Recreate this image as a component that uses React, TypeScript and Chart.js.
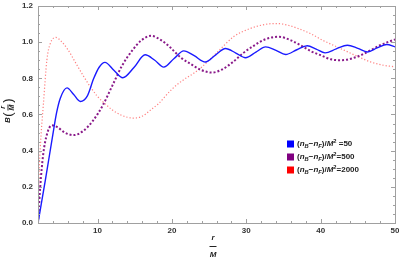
import React, { useEffect, useRef } from "react";
import { Chart, registerables } from "chart.js";

Chart.register(...registerables);

// ---- data ----
const X_50 = [2, 3, 4, 4.5, 5, 5.9, 6.8, 7.7, 8.6, 9.5, 10.2, 11.0, 12.2, 13.4, 14.9, 16.4, 17.7, 18.9, 20.3, 21.6, 23.0, 24.5, 25.9, 27.2, 28.6, 29.9, 31.3, 32.6, 34.0, 35.3, 36.8, 38.2, 39.4, 40.6, 42.1, 43.6, 45.0, 46.3, 47.6, 48.9, 50];
const Y_50 = [0, 0.24, 0.49, 0.61, 0.69, 0.747, 0.71, 0.672, 0.7, 0.8, 0.86, 0.888, 0.845, 0.803, 0.86, 0.93, 0.9, 0.862, 0.91, 0.952, 0.925, 0.89, 0.93, 0.965, 0.94, 0.914, 0.945, 0.974, 0.955, 0.932, 0.958, 0.98, 0.962, 0.941, 0.963, 0.983, 0.966, 0.946, 0.968, 0.987, 0.974];

const X_500 = [2, 2.3, 2.7, 3.2, 3.85, 4.6, 5.6, 6.8, 8.1, 9.4, 10.7, 12.0, 13.3, 14.6, 15.9, 17.2, 18.6, 19.8, 21.2, 22.5, 24.0, 25.4, 26.8, 28.2, 29.6, 31.0, 32.5, 34.4, 36.0, 37.3, 38.7, 40.0, 41.4, 42.8, 44.2, 45.4, 46.7, 48.0, 49.0, 50];
const Y_500 = [0, 0.2, 0.38, 0.49, 0.54, 0.53, 0.5, 0.486, 0.51, 0.566, 0.65, 0.76, 0.87, 0.95, 1.01, 1.035, 1.01, 0.97, 0.915, 0.88, 0.845, 0.832, 0.85, 0.89, 0.94, 0.98, 1.015, 1.03, 1.01, 0.983, 0.95, 0.928, 0.905, 0.9, 0.91, 0.928, 0.955, 0.983, 1.0, 1.015];

const X_2000 = [2, 2.1, 2.2, 2.4, 2.73, 3.19, 3.63, 4.4, 5, 6, 7, 8, 9, 10, 11, 12, 13, 14, 14.8, 16, 17.1, 18.2, 20, 21.5, 22.9, 23.8, 26, 28.3, 30.5, 32.8, 34.1, 35.5, 37, 38.6, 40.3, 42.2, 44.5, 46.7, 48.5, 50];
const Y_2000 = [0, 0.2, 0.33, 0.48, 0.66, 0.9, 0.99, 1.026, 1.01, 0.96, 0.89, 0.82, 0.755, 0.7, 0.66, 0.625, 0.6, 0.585, 0.58, 0.59, 0.624, 0.66, 0.74, 0.79, 0.827, 0.855, 0.94, 1.03, 1.075, 1.1, 1.103, 1.095, 1.075, 1.048, 1.01, 0.974, 0.93, 0.891, 0.872, 0.864];

const X_TICKS = [10, 20, 30, 40, 50];
const Y_TICKS = [0, 0.2, 0.4, 0.6, 0.8, 1.0, 1.2];
const LEGEND_VALUES = [" =50", "=500", "=2000"];
const SERIES_COLORS = ["#0000ff", "#800080", "#ff0000"];

const FONT = "'Liberation Sans', Arial, sans-serif";

type Part = { t: string; k?: "i" | "sub" | "sup" };

function drawRich(ctx: CanvasRenderingContext2D, x: number, y: number, parts: Part[], size: number) {
  let cx = x;
  for (const p of parts) {
    let fs = size;
    let dy = 0;
    let style = "";
    if (p.k === "sub") { fs = size * 0.72; dy = 2; style = "italic "; }
    else if (p.k === "sup") { fs = size * 0.72; dy = -3; }
    else if (p.k === "i") { style = "italic "; }
    ctx.font = `${style}bold ${fs}px ${FONT}`;
    ctx.fillText(p.t, cx, y + dy);
    cx += ctx.measureText(p.t).width;
  }
}

const framePlugin = {
  id: "frame",
  afterDatasetsDraw(chart: any) {
    const { ctx, chartArea: a, scales } = chart;
    const xs = scales.x, ys = scales.y;
    ctx.save();
    // frame
    ctx.strokeStyle = "#a0a0a0";
    ctx.lineWidth = 1;
    ctx.strokeRect(Math.round(a.left) + 0.5, Math.round(a.top) + 0.5, Math.round(a.right - a.left), Math.round(a.bottom - a.top));
    // ticks
    ctx.beginPath();
    for (let v = 2; v <= 50; v += 2) {
      const px = Math.round(xs.getPixelForValue(v)) + 0.5;
      const len = v % 10 === 0 ? 4 : 2;
      ctx.moveTo(px, a.bottom); ctx.lineTo(px, a.bottom - len);
      ctx.moveTo(px, a.top); ctx.lineTo(px, a.top + len);
    }
    for (let i = 0; i <= 24; i++) {
      const v = i * 0.05;
      const py = Math.round(ys.getPixelForValue(v)) + 0.5;
      const len = i % 4 === 0 ? 4 : 2;
      ctx.moveTo(a.left, py); ctx.lineTo(a.left + len, py);
      ctx.moveTo(a.right, py); ctx.lineTo(a.right - len, py);
    }
    ctx.stroke();
    // tick labels
    ctx.fillStyle = "#333";
    ctx.font = `bold 8px ${FONT}`;
    ctx.textAlign = "center";
    ctx.textBaseline = "top";
    for (const v of X_TICKS) {
      ctx.fillText(String(v), xs.getPixelForValue(v), a.bottom + 4);
    }
    ctx.textAlign = "right";
    ctx.textBaseline = "middle";
    for (const v of Y_TICKS) {
      ctx.fillText(v.toFixed(1), a.left - 5, ys.getPixelForValue(v));
    }
    // x axis label r/M
    ctx.fillStyle = "#222";
    ctx.textAlign = "center";
    ctx.textBaseline = "middle";
    ctx.font = `italic bold 8px ${FONT}`;
    const lx = 213;
    ctx.fillText("r", lx, 238);
    ctx.fillRect(lx - 3.5, 246, 7, 1);
    ctx.fillText("M", lx, 255);
    // y axis label B(r/M)
    ctx.save();
    ctx.translate(8, 110);
    ctx.rotate(-Math.PI / 2);
    ctx.textBaseline = "middle";
    ctx.textAlign = "center";
    ctx.font = `italic bold 8px ${FONT}`;
    ctx.fillText("B", -10, 0);
    ctx.font = `13px ${FONT}`;
    ctx.fillText("(", -4.5, 0);
    ctx.fillText(")", 9.5, 0);
    ctx.font = `italic bold 7px ${FONT}`;
    ctx.fillText("r", 2.5, -4.5);
    ctx.fillRect(-0.5, -0.5, 6, 1);
    ctx.fillText("M", 2.5, 4.5);
    ctx.restore();
    // legend
    const baseParts: Part[] = [
      { t: "(" }, { t: "n", k: "i" }, { t: "B", k: "sub" }, { t: "\u2212" }, { t: "n", k: "i" }, { t: "F", k: "sub" }, { t: ")/" }, { t: "M", k: "i" }, { t: "2", k: "sup" },
    ];
    const rows = [144, 157, 170];
    ctx.textAlign = "left";
    ctx.textBaseline = "middle";
    for (let i = 0; i < 3; i++) {
      ctx.fillStyle = SERIES_COLORS[i];
      ctx.fillRect(287, rows[i] - 3.5, 7, 7);
      ctx.fillStyle = "#222";
      drawRich(ctx, 297, rows[i], [...baseParts, { t: LEGEND_VALUES[i] }], 8);
    }
    ctx.restore();
  },
};

function toPts(xs: number[], ys: number[]) {
  return xs.map((x, i) => ({ x, y: ys[i] }));
}

export default function App() {
  const ref = useRef<HTMLCanvasElement>(null);
  useEffect(() => {
    document.body.style.margin = "0";
    const chart = new Chart(ref.current!, {
      type: "line",
      data: {
        datasets: [
          {
            data: toPts(X_50, Y_50),
            borderColor: "#1a1aff",
            borderWidth: 1.4,
            pointRadius: 0,
            cubicInterpolationMode: "monotone",
            fill: false,
          },
          {
            data: toPts(X_500, Y_500),
            borderColor: "#8a1a8a",
            borderWidth: 2,
            borderDash: [2, 2],
            pointRadius: 0,
            cubicInterpolationMode: "monotone",
            fill: false,
          },
          {
            data: toPts(X_2000, Y_2000),
            borderColor: "rgba(255,60,60,0.65)",
            borderWidth: 1.2,
            borderDash: [1.2, 2],
            pointRadius: 0,
            cubicInterpolationMode: "monotone",
            fill: false,
          },
        ],
      },
      options: {
        animation: false,
        responsive: false,
        layout: { padding: { left: 38, top: 6, right: 4, bottom: 37 } },
        plugins: { legend: { display: false }, tooltip: { enabled: false } },
        scales: {
          x: { type: "linear", min: 2, max: 50, display: false },
          y: { type: "linear", min: 0, max: 1.2, display: false },
        },
      },
      plugins: [framePlugin],
    } as any);
    return () => chart.destroy();
  }, []);
  return <canvas ref={ref} width={399} height={260} style={{ display: "block" }} />;
}
